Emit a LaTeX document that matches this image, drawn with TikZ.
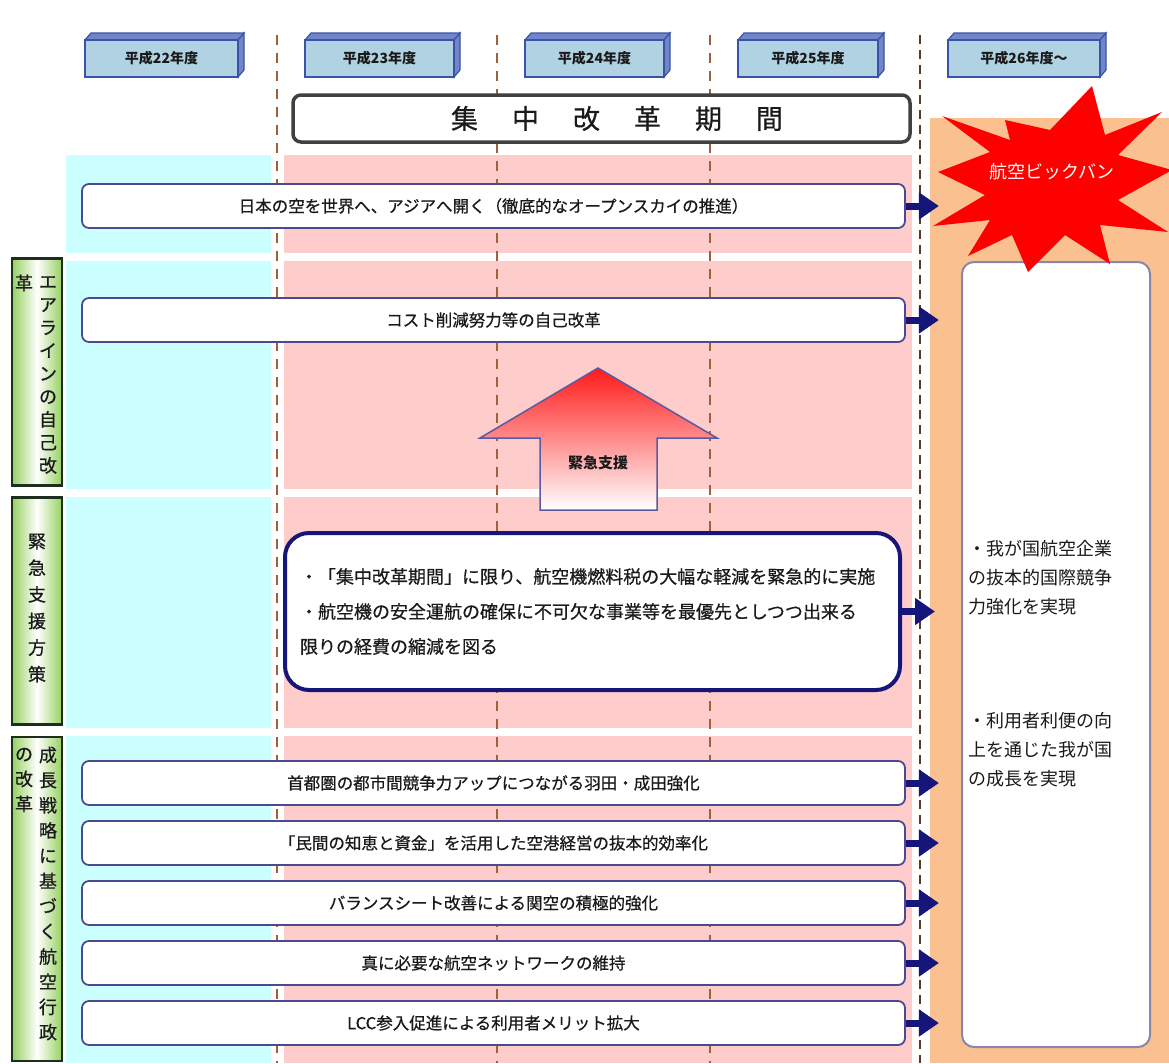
\documentclass[tikz,border=0pt]{standalone}
\usepackage{fontspec}
\setmainfont{Noto Sans CJK JP}
\newfontfamily\jpmed{Noto Sans CJK JP}[FakeBold=0.6]
\usetikzlibrary{arrows.meta,calc}
\definecolor{cyanband}{HTML}{CCFFFF}
\definecolor{pinkband}{HTML}{FFCCCC}
\definecolor{orangeband}{HTML}{FAC090}
\definecolor{dashbrown}{HTML}{A0603C}
\definecolor{dashdark}{HTML}{5A3A28}
\definecolor{barline}{HTML}{4A4A90}
\definecolor{navyarr}{HTML}{16167A}
\definecolor{tabfill}{HTML}{B0D2E2}
\definecolor{tabline}{HTML}{3A52A8}
\definecolor{tabtop}{HTML}{7086C8}
\definecolor{ggreen}{HTML}{96D060}
\definecolor{gborder}{HTML}{1E2E1E}
\definecolor{resline}{HTML}{8A86A8}
\definecolor{arrline}{HTML}{5A5AA0}
\definecolor{txt}{HTML}{1A1A1A}
\begin{document}
\begin{tikzpicture}[x=1pt,y=-1pt,
  tabface/.style={draw=tabline, line width=1.3pt, fill=tabfill, minimum height=37pt, inner sep=0pt, text=txt, font=\fontsize{14}{16}\selectfont\bfseries},
  barbox/.style={draw=barline, line width=1.8pt, rounded corners=7pt, fill=white, minimum width=823pt, minimum height=44pt, inner sep=0pt, text=txt, font=\jpmed\fontsize{16.5}{18}\selectfont},
  flowarrow/.style={draw=navyarr, line width=7pt, -{Triangle[length=20pt,width=26pt]}},
  yeardash/.style={draw=dashbrown, line width=2.5pt, dash pattern=on 10pt off 8pt},
  glabel/.style={draw=gborder, line width=2.5pt, left color=ggreen, right color=ggreen, middle color=white, minimum width=50pt, inner sep=0pt},
  vtext/.style={align=center, inner sep=0pt, text=txt},
  restext/.style={align=left, anchor=west, inner sep=0pt, text=txt, font=\fontsize{18}{29}\selectfont}
]
\useasboundingbox (0,0) rectangle (1169,1063);
\fill[white] (0,0) rectangle (1169,1063);

% background bands
\foreach \ya/\yb in {155/253, 261/489, 497/728, 736/1063}{
  \fill[cyanband] (66,\ya) rectangle (271,\yb);
  \fill[pinkband] (284,\ya) rectangle (912,\yb);
}
\fill[orangeband] (930,118) rectangle (1169,1063);

% year dashed lines
\foreach \x in {277,497,710}{
  \draw[yeardash] (\x,35) -- (\x,1063);
}
\draw[draw=dashdark, line width=2.2pt, dash pattern=on 9pt off 6pt] (920,35) -- (920,1063);

% year tabs
\foreach \xa/\xb/\nm/\lab in {85/244/t1/平成22年度, 305/460/t2/平成23年度, 525/670/t3/平成24年度, 738/884/t4/平成25年度, 948/1106/t5/平成26年度〜}{
  \filldraw[fill=tabtop, draw=tabline, line width=1.2pt] (\xa,40) -- (\xa+6,33) -- (\xb,33) -- (\xb-6,40) -- cycle;
  \filldraw[fill=tabtop, draw=tabline, line width=1.2pt] (\xb-6,40) -- (\xb,33) -- (\xb,70) -- (\xb-6,77) -- cycle;
  \node[tabface, minimum width={\xb-\xa-6}] (\nm) at ({(\xa+\xb-6)/2},58.5) {\lab};
}

% period box
\node[draw=black!75, line width=3.5pt, rounded corners=8pt, fill=white, minimum width=617pt, minimum height=47pt, inner sep=0pt] (period) at (601.5,118.5) {};
\node[inner sep=0pt, text=txt, font=\jpmed\fontsize{27}{30}\selectfont] (ptext) at (617,118.5) {集\hspace{34pt}中\hspace{34pt}改\hspace{34pt}革\hspace{34pt}期\hspace{34pt}間};

% left green labels
\node[glabel, minimum height=227pt] (g1) at (37,372) {};
\node[vtext, font=\jpmed\fontsize{18}{23}\selectfont] (g1a) at (48,375) {エ\\ア\\ラ\\イ\\ン\\の\\自\\己\\改};
\node[vtext, font=\jpmed\fontsize{18}{23}\selectfont] (g1b) at (24,283) {革};
\node[glabel, minimum height=227pt] (g2) at (37,611) {};
\node[vtext, font=\jpmed\fontsize{18}{26.6}\selectfont] (g2a) at (37,608) {緊\\急\\支\\援\\方\\策};
\node[glabel, minimum height=324pt] (g3) at (37,899) {};
\node[vtext, font=\jpmed\fontsize{18}{25.2}\selectfont] (g3a) at (48,893.5) {成\\長\\戦\\略\\に\\基\\づ\\く\\航\\空\\行\\政};
\node[vtext, font=\jpmed\fontsize{18}{25}\selectfont] (g3b) at (24,780) {の\\改\\革};

% bars
\node[barbox] (b1) at (493.5,206) {日本の空を世界へ、アジアへ開く（徹底的なオープンスカイの推進）};
\node[barbox] (b2) at (493.5,320) {コスト削減努力等の自己改革};
\node[barbox] (b4) at (493.5,783) {首都圏の都市間競争力アップにつながる羽田・成田強化};
\node[barbox] (b5) at (493.5,843) {「民間の知恵と資金」を活用した空港経営の抜本的効率化};
\node[barbox] (b6) at (493.5,903) {バランスシート改善による関空の積極的強化};
\node[barbox] (b7) at (493.5,963) {真に必要な航空ネットワークの維持};
\node[barbox] (b8) at (493.5,1023) {LCC参入促進による利用者メリット拡大};

% emergency support arrow
\shade[top color=red!90!white, bottom color=white, draw=arrline, line width=1.5pt]
  (598,368) -- (717,438) -- (657,438) -- (657,510) -- (540,510) -- (540,438) -- (480,438) -- cycle;
\node[inner sep=0pt, text=txt, font=\fontsize{15}{17}\selectfont\bfseries] (kinkyu) at (598,463) {緊急支援};

% big measures box
\node[draw=navyarr, line width=4pt, rounded corners=24pt, fill=white, minimum height=157pt, text width=585pt, inner xsep=15pt, align=left, text=txt, font=\jpmed\fontsize{18}{35}\selectfont] (bigbox) at (592.5,611.5)
 {・「集中改革期間」に限り、航空機燃料税の大幅な軽減を緊急的に実施\\・航空機の安全運航の確保に不可欠な事業等を最優先としつつ出来る\\限りの経費の縮減を図る};

% result box
\node[draw=resline, line width=2pt, rounded corners=12pt, fill=white, minimum width=188pt, minimum height=785pt, inner sep=0pt] (res) at (1056,654.5) {};
\node[restext] (r1) at (968,578) {・我が国航空企業\\の抜本的国際競争\\力強化を実現};
\node[restext] (r2) at (968,750) {・利用者利便の向\\上を通じた我が国\\の成長を実現};

% flow arrows
\foreach \s/\e in {b1/e1, b2/e2, bigbox/e3, b4/e4, b5/e5, b6/e6, b7/e7, b8/e8}{
  \coordinate (\e) at ($(\s.east)+(33,0)$);
  \draw[flowarrow] (\s.east) -- (\e);
}

% big bang star
\fill[red] (1092,86) -- (1105,135) -- (1162,112) -- (1118,155) -- (1172,170) -- (1118,200)
  -- (1168,232) -- (1100,225) -- (1110,264) -- (1065,235) -- (1028,272) -- (1012,235)
  -- (968,256) -- (990,220) -- (933,226) -- (985,195) -- (938,172) -- (990,152)
  -- (942,116) -- (1010,140) -- (1005,120) -- (1050,130) -- cycle;
\node[inner sep=0pt, text=white, font=\fontsize{18}{20}\selectfont] (bang) at (1052,172) {航空ビックバン};
\end{tikzpicture}
\end{document}
